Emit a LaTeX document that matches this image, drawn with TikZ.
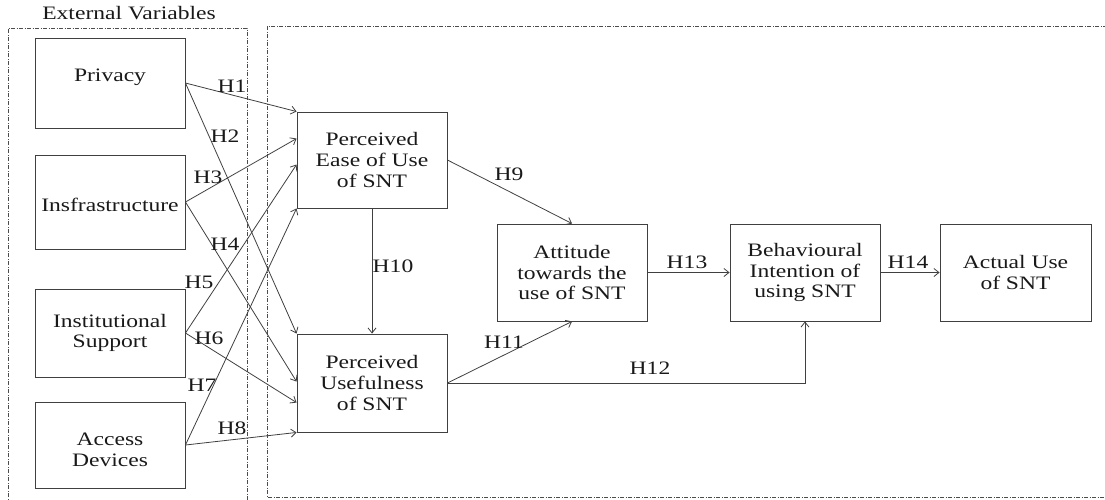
\documentclass[tikz,border=0pt]{standalone}
\usepackage{fontspec}
\setmainfont{Liberation Serif}[FakeStretch=1.24]
\usetikzlibrary{arrows.meta}
% lower a piece of text without changing its reported size
\newcommand\dropby[2]{\raisebox{-#1}[\height][\depth]{#2}}
\begin{document}
\begin{tikzpicture}[x=1pt,y=-1pt,
  every node/.style={font=\fontsize{19}{20.7}\selectfont, text=black!90},
  box/.style={draw=black!75, line width=0.9pt, minimum width=150pt, inner sep=0pt, align=center},
  link/.style={draw=black!75, line width=0.8pt, -{Straight Barb[length=5pt,width=8pt]}},
  hyp/.style={anchor=base, inner sep=0pt},
  frame/.style={draw=black!70, line width=0.7pt, dash pattern=on 4pt off 1.5pt on 1pt off 1.5pt}]

\useasboundingbox (0,0) rectangle (1105,499);

% dash-dotted frames
\draw[frame] (8,505) -- (8,28) -- (247,28) -- (247,505);
\draw[frame] (1115,26) -- (267,26) -- (267,497) -- (1115,497);
\node[hyp] (title) at (129,19) {External Variables};

% external variables
\node[box, minimum height=90pt, text height=13pt, text depth=17pt] (priv) at (110,83) {Privacy};
\node[box, minimum height=94pt] (infra) at (110,202) {\dropby{3pt}{Insfrastructure}};
\node[box, minimum height=88pt] (inst) at (110,333) {Institutional\\Support};
\node[box, minimum height=86pt] (acc) at (110,445) {\dropby{5pt}{Access}\\\dropby{5pt}{Devices}};

% model constructs
\node[box, minimum height=96pt] (peu) at (372,160) {Perceived\\Ease of Use\\of SNT};
\node[box, minimum height=98pt] (pu) at (372,383) {Perceived\\Usefulness\\of SNT};
\node[box, minimum height=97pt] (att) at (572,272.5) {Attitude\\towards the\\use of SNT};
\node[box, minimum height=97pt] (bi) at (805,272.5) {Behavioural\\Intention of\\using SNT};
\node[box, minimum height=97pt, minimum width=151pt] (au) at (1015.5,272.5) {Actual Use\\of SNT};

% external variables -> perceived ease of use
\draw[link] (priv.east) -- (peu.north west);
\draw[link] (infra.east) -- ([yshift=-27pt]peu.north west);
\draw[link] (inst.east) -- ([yshift=-53pt]peu.north west);
\draw[link] (acc.east) -- (peu.south west);

% external variables -> perceived usefulness
\draw[link] (priv.east) -- (pu.north west);
\draw[link] (infra.east) -- ([yshift=-48pt]pu.north west);
\draw[link] (inst.east) -- ([yshift=-69pt]pu.north west);
\draw[link] (acc.east) -- (pu.south west);

% structural paths
\draw[link] (peu.east) -- (att.north);
\draw[link] (peu.south) -- (pu.north);
\draw[link] (pu.east) -- (att.south);
\draw[link] (pu.east) -- (pu.east -| bi.south) -- (bi.south);
\draw[link] (att.east) -- (bi.west);
\draw[link] (bi.east) -- (au.west);

% hypothesis labels
\node[hyp] (h1) at (232,92) {H1};
\node[hyp] (h2) at (225,142) {H2};
\node[hyp] (h3) at (208,183) {H3};
\node[hyp] (h4) at (225,250) {H4};
\node[hyp] (h5) at (199,288) {H5};
\node[hyp] (h6) at (209,344) {H6};
\node[hyp] (h7) at (202,391) {H7};
\node[hyp] (h8) at (232,434) {H8};
\node[hyp] (h9) at (509,180) {H9};
\node[hyp] (h10) at (393,272) {H10};
\node[hyp] (h11) at (504,348) {H11};
\node[hyp] (h12) at (650,374) {H12};
\node[hyp] (h13) at (687,268) {H13};
\node[hyp] (h14) at (908,268) {H14};
\end{tikzpicture}
\end{document}
